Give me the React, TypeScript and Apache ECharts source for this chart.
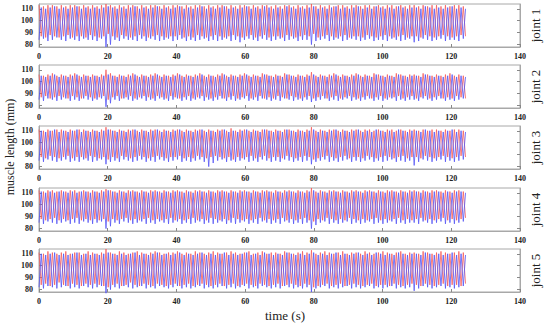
import React, { useEffect, useRef } from "react";
import * as echarts from "echarts";

const parse = (s: string): number[] => s.trim().split(/\s+/).map(Number);

const X_TICKS = [0, 20, 40, 60, 80, 100, 120, 140];
const Y_TICKS = [80, 90, 100, 110];
const JOINTS = ["joint 1", "joint 2", "joint 3", "joint 4", "joint 5"];
const CYCLE_S = 1.3;

// Panel 1 turning points per cycle
const J1_RED_HI = parse(`
113 112 113 113 112 113 112 113 113 112 113 112
113 112 113 114 113 112 113 112 113 113 112 113
112 113 113 112 113 112 113 113 112 113 112 113
113 112 113 112 113 113 112 113 112 113 113 112
113 112 113 113 112 113 112 113 113 112 113 112
113 114 112 113 112 113 112 113 113 112 113 113
112 113 113 112 113 112 113 113 112 113 112 113
113 112 113 112 113 113 112 113 112 113 113 112`);
const J1_RED_LO = parse(`
87 86 88 87 86 87 88 86 87 87 86 88
87 86 87 89 87 86 88 87 86 87 88 87
86 87 88 87 86 87 87 88 86 87 86 88
87 86 87 88 87 86 87 88 87 86 87 88
86 87 88 86 87 87 86 88 87 86 87 88
87 89 86 87 88 87 86 87 88 86 87 87
86 88 87 86 87 88 87 86 87 88 86 87
87 86 88 87 86 87 88 87 86 87 88 87`);
const J1_BLUE_HI = parse(`
111 110 111 112 110 111 110 111 112 110 111 110
111 110 111 112 111 110 111 110 111 112 110 111
110 111 112 110 111 110 111 112 110 111 110 111
112 110 111 110 111 112 110 111 110 111 112 110
111 110 112 111 110 111 110 112 111 110 111 110
111 112 110 111 110 111 112 110 111 110 111 112
110 111 110 112 111 110 111 110 112 111 110 111
111 110 112 111 110 111 110 111 112 110 111 110`);
const J1_BLUE_LO = parse(`
84 85 83 84 86 84 83 85 84 83 85 84
84 83 85 78 80 84 83 85 84 84 83 85
83 85 84 83 84 85 83 84 85 83 84 83
84 85 83 84 83 84 85 83 84 82 84 85
84 83 85 84 83 84 85 83 84 85 83 84
84 80 83 84 85 83 84 85 83 84 85 84
83 84 85 83 84 84 83 85 84 83 84 85
82 83 85 84 83 84 85 83 84 84 83 85`);

// Panel 2
const J2_RED_HI = parse(`
106 105 106 107 105 106 105 106 107 105 106 105
106 105 106 110 107 105 106 105 106 107 105 106
105 106 107 105 106 105 106 107 105 106 105 106
107 105 106 105 106 107 105 106 105 106 107 105
106 105 107 106 105 106 105 107 106 105 106 105
106 108 105 106 105 106 107 105 106 105 106 107
105 106 105 107 106 105 106 105 107 106 105 106
106 105 107 106 105 106 105 106 107 105 106 105`);
const J2_RED_LO = parse(`
87 88 86 87 88 87 86 88 87 86 88 87
86 87 88 85 87 88 86 87 88 86 87 88
87 86 88 87 86 88 87 86 87 88 86 87
88 87 86 87 88 86 87 88 86 87 88 86
87 88 86 87 86 88 87 86 88 87 86 87
88 86 87 88 86 87 88 86 87 88 87 86
87 88 86 87 88 86 87 87 88 86 87 88
86 87 88 86 87 88 86 87 86 88 87 86`);
const J2_BLUE_HI = parse(`
105 104 105 106 104 105 104 105 106 104 105 104
105 104 105 106 105 104 105 104 105 106 104 105
104 105 106 104 105 104 105 106 104 105 104 105
106 104 105 104 105 106 104 105 104 105 106 104
105 104 106 105 104 105 104 106 105 104 105 104
105 106 104 105 104 105 106 104 105 104 105 106
104 105 104 106 105 104 105 104 106 105 104 105
105 104 106 105 104 105 104 105 106 104 105 104`);
const J2_BLUE_LO = parse(`
85 84 86 85 84 85 86 84 85 84 86 85
84 85 86 79 82 85 84 86 85 84 85 86
84 85 84 86 85 84 85 86 84 85 84 85
86 84 85 84 85 86 84 85 84 85 86 84
85 84 86 85 84 85 84 86 85 84 85 84
85 83 84 85 86 84 85 84 85 86 84 85
84 85 86 84 85 84 85 86 84 85 84 85
85 84 86 85 84 85 86 84 85 84 85 86`);

// Panel 3
const J3_RED_HI = parse(`
111 110 111 110 111 111 110 111 110 111 111 110
111 110 111 113 111 110 111 110 111 111 110 111
110 111 111 110 111 110 111 111 110 111 110 111
111 110 111 110 111 111 110 112 110 111 111 110
111 110 111 111 110 111 110 111 111 110 111 110
111 113 110 111 110 111 111 110 111 110 111 111
110 111 111 110 111 110 111 111 110 111 110 111
111 110 111 110 111 111 110 111 110 111 111 110`);
const J3_RED_LO = parse(`
88 87 89 88 87 88 89 87 88 88 87 89
88 87 88 86 88 87 89 88 87 88 89 88
87 88 89 88 87 88 88 89 87 88 87 89
88 87 88 89 88 87 88 86 88 87 88 89
87 88 89 87 88 88 87 89 88 87 88 89
88 86 87 88 89 88 87 88 89 87 88 88
87 89 88 87 88 89 88 87 88 89 87 88
88 87 89 88 87 88 89 88 87 88 89 88`);
const J3_BLUE_HI = parse(`
110 109 110 111 109 110 109 110 111 109 110 109
110 109 110 111 110 109 110 109 110 111 109 110
109 110 111 109 110 109 110 111 109 110 109 110
111 109 110 109 110 111 109 110 109 110 111 109
110 109 111 110 109 110 109 111 110 109 110 109
110 111 109 110 109 110 111 109 110 109 110 111
109 110 109 111 110 109 110 109 111 110 109 110
110 109 111 110 109 110 109 110 111 109 110 109`);
const J3_BLUE_LO = parse(`
85 84 86 85 84 85 86 84 85 84 86 85
84 85 86 82 84 85 84 86 85 84 85 86
84 85 84 86 85 84 85 86 84 85 84 85
86 84 80 83 85 86 84 85 84 85 86 84
85 84 86 85 84 85 84 86 85 84 85 84
85 82 84 85 86 84 85 84 85 86 84 85
84 85 86 84 85 84 85 86 84 85 84 85
81 84 86 85 84 85 86 84 85 84 85 86`);

// Panel 4
const J4_RED_HI = parse(`
112 111 112 112 111 112 111 112 112 111 112 111
112 111 112 113 112 111 112 111 112 112 111 112
111 112 112 111 112 111 112 112 111 112 111 112
112 111 112 111 112 112 111 112 111 112 112 111
112 111 112 112 111 112 111 112 112 111 112 111
112 114 111 112 111 112 112 111 112 111 112 112
111 112 112 111 112 111 112 112 111 112 111 112
112 111 112 111 112 112 111 112 111 112 112 111`);
const J4_RED_LO = parse(`
88 87 88 89 87 88 87 88 89 87 88 87
88 87 88 86 88 87 88 89 87 88 87 88
89 87 88 87 88 89 87 88 87 88 89 87
88 87 89 88 87 88 87 89 88 87 88 87
88 89 87 88 87 88 89 87 88 87 88 89
87 86 88 87 89 88 87 88 87 89 88 87
88 87 88 89 87 88 87 88 89 87 88 87
88 89 87 88 87 88 89 87 88 87 88 89`);
const J4_BLUE_HI = parse(`
111 110 111 110 111 111 110 111 110 111 111 110
111 110 111 112 111 110 111 110 111 111 110 111
110 111 111 110 111 110 111 111 110 111 110 111
111 110 111 110 111 111 110 111 110 111 111 110
111 110 111 111 110 111 110 111 111 110 111 110
111 112 110 111 110 111 111 110 111 110 111 111
110 111 111 110 111 110 111 111 110 111 110 111
111 110 111 110 111 111 110 111 110 111 111 110`);
const J4_BLUE_LO = parse(`
85 84 86 85 84 85 86 84 85 84 86 85
84 85 86 80 82 85 84 86 85 84 85 86
84 85 84 86 85 84 85 86 84 85 84 85
86 84 85 84 85 86 84 85 84 85 86 84
85 84 86 85 84 85 84 86 85 84 85 84
85 80 83 85 86 84 85 84 85 86 84 85
84 85 86 84 85 84 85 86 84 85 84 85
85 84 86 85 84 85 86 84 85 84 85 86`);

// Panel 5
const J5_RED_HI = parse(`
111 110 112 111 110 111 112 110 111 111 110 112
111 110 111 114 111 110 112 111 110 111 112 111
110 111 112 111 110 111 111 112 110 111 110 112
111 110 111 112 111 110 111 112 111 110 111 112
110 111 112 110 111 111 110 112 111 110 111 112
111 113 110 111 112 111 110 111 112 110 111 111
110 112 111 110 111 112 111 110 111 112 110 111
111 110 112 111 110 111 112 111 110 111 112 111`);
const J5_RED_LO = parse(`
84 85 83 84 86 84 83 85 84 83 85 84
85 84 83 82 84 85 83 84 86 84 83 85
84 83 85 84 83 84 85 83 84 85 83 84
85 84 83 84 85 83 84 85 83 84 85 84
83 85 84 83 84 85 83 84 85 84 83 85
84 82 83 84 85 83 84 85 83 84 85 84
83 84 85 83 84 84 83 85 84 83 84 85
84 83 85 84 83 84 85 83 84 84 83 85`);
const J5_BLUE_HI = parse(`
110 109 110 111 109 110 109 110 111 109 110 109
110 109 110 111 110 109 110 109 110 111 109 110
109 110 111 109 110 109 110 111 109 110 109 110
111 109 110 109 110 111 109 110 109 110 111 109
110 109 111 110 109 110 109 111 110 109 110 109
110 111 109 110 109 110 111 109 110 109 110 111
109 110 109 111 110 109 110 109 111 110 109 110
110 109 111 110 109 110 109 110 111 109 110 109`);
const J5_BLUE_LO = parse(`
82 81 83 82 81 82 83 81 82 81 83 82
81 82 83 77 80 82 81 83 82 81 82 83
81 82 81 83 82 81 82 83 81 82 81 82
83 81 82 81 82 83 81 82 81 82 83 81
82 81 83 82 81 82 81 83 82 81 82 81
82 78 81 82 83 81 82 81 82 83 81 82
81 82 83 81 82 81 82 83 81 82 81 82
79 81 83 82 81 82 83 81 82 81 82 83`);

const PANELS = [
  { red: [J1_RED_HI, J1_RED_LO], blue: [J1_BLUE_HI, J1_BLUE_LO] },
  { red: [J2_RED_HI, J2_RED_LO], blue: [J2_BLUE_HI, J2_BLUE_LO] },
  { red: [J3_RED_HI, J3_RED_LO], blue: [J3_BLUE_HI, J3_BLUE_LO] },
  { red: [J4_RED_HI, J4_RED_LO], blue: [J4_BLUE_HI, J4_BLUE_LO] },
  { red: [J5_RED_HI, J5_RED_LO], blue: [J5_BLUE_HI, J5_BLUE_LO] },
];

function toPoints(hi: number[], lo: number[], startHigh: boolean): number[][] {
  const pts: number[][] = [];
  for (let i = 0; i < hi.length; i++) {
    const t = i * CYCLE_S;
    if (startHigh) {
      pts.push([t, hi[i]]);
      pts.push([t + CYCLE_S / 2, lo[i]]);
    } else {
      pts.push([t, lo[i]]);
      pts.push([t + CYCLE_S / 2, hi[i]]);
    }
  }
  return pts;
}

const FONT = "Liberation Serif";
const TOPS = [4, 65, 126, 188, 249];
const PANEL_H = 43;

export default function App() {
  const ref = useRef<HTMLDivElement>(null);
  useEffect(() => {
    if (!ref.current) return;
    const chart = echarts.init(ref.current, undefined, { renderer: "svg" });
    const grid: any[] = [];
    const xAxis: any[] = [];
    const yAxis: any[] = [];
    const series: any[] = [];
    PANELS.forEach((p, i) => {
      grid.push({
        left: 39,
        right: 24,
        top: TOPS[i],
        height: PANEL_H,
        show: true,
        borderColor: "#a8a8a8",
        borderWidth: 1,
        containLabel: false,
      });
      xAxis.push({
        type: "value",
        gridIndex: i,
        min: 0,
        max: 140,
        interval: 20,
        axisLine: { show: true, lineStyle: { color: "#a8a8a8", width: 1 } },
        axisTick: { show: true, inside: true, length: 3, lineStyle: { color: "#888" } },
        splitLine: { show: false },
        axisLabel: {
          fontFamily: FONT,
          fontSize: 8,
          fontWeight: "bold",
          color: "#222",
          margin: 5,
        },
      });
      yAxis.push({
        type: "value",
        gridIndex: i,
        min: 78,
        max: 114,
        position: "left",
        axisLine: { show: true, lineStyle: { color: "#a8a8a8", width: 1 } },
        axisTick: {
          show: true,
          inside: true,
          length: 3,
          customValues: Y_TICKS,
          lineStyle: { color: "#888" },
        },
        splitLine: { show: false },
        axisLabel: {
          customValues: Y_TICKS,
          fontFamily: FONT,
          fontSize: 8,
          fontWeight: "bold",
          color: "#222",
          margin: 6,
        },
      });
      yAxis.push({
        type: "value",
        gridIndex: i,
        min: 78,
        max: 114,
        position: "right",
        name: JOINTS[i],
        nameLocation: "middle",
        nameRotate: 90,
        nameGap: 9,
        nameTextStyle: { fontFamily: FONT, fontSize: 13, color: "#222" },
        axisLine: { show: true, lineStyle: { color: "#a8a8a8", width: 1 } },
        axisTick: {
          show: true,
          inside: true,
          length: 3,
          customValues: Y_TICKS,
          lineStyle: { color: "#888" },
        },
        splitLine: { show: false },
        axisLabel: { show: false },
      });
      series.push({
        type: "line",
        xAxisIndex: i,
        yAxisIndex: i * 2,
        data: toPoints(p.red[0], p.red[1], true),
        showSymbol: false,
        symbol: "none",
        clip: false,
        lineStyle: { color: "#f55c5c", width: 1, opacity: 0.8 },
        silent: true,
      });
      series.push({
        type: "line",
        xAxisIndex: i,
        yAxisIndex: i * 2,
        data: toPoints(p.blue[0], p.blue[1], false),
        showSymbol: false,
        symbol: "none",
        clip: false,
        lineStyle: { color: "#5656f5", width: 1, opacity: 0.8 },
        silent: true,
      });
    });
    chart.setOption({
      animation: false,
      backgroundColor: "#ffffff",
      grid,
      xAxis,
      yAxis,
      series,
      graphic: [
        {
          type: "text",
          x: 10,
          y: 147,
          rotation: Math.PI / 2,
          style: {
            text: "muscle length (mm)",
            fontFamily: FONT,
            fontSize: 12,
            fill: "#222",
            align: "center",
            verticalAlign: "middle",
          },
        },
        {
          type: "text",
          x: 285,
          y: 315,
          style: {
            text: "time (s)",
            fontFamily: FONT,
            fontSize: 13,
            fill: "#222",
            align: "center",
            verticalAlign: "middle",
          },
        },
      ],
    });
    return () => chart.dispose();
  }, []);
  return <div ref={ref} style={{ width: 550, height: 324, position: "absolute", left: 0, top: 0 }} />;
}
